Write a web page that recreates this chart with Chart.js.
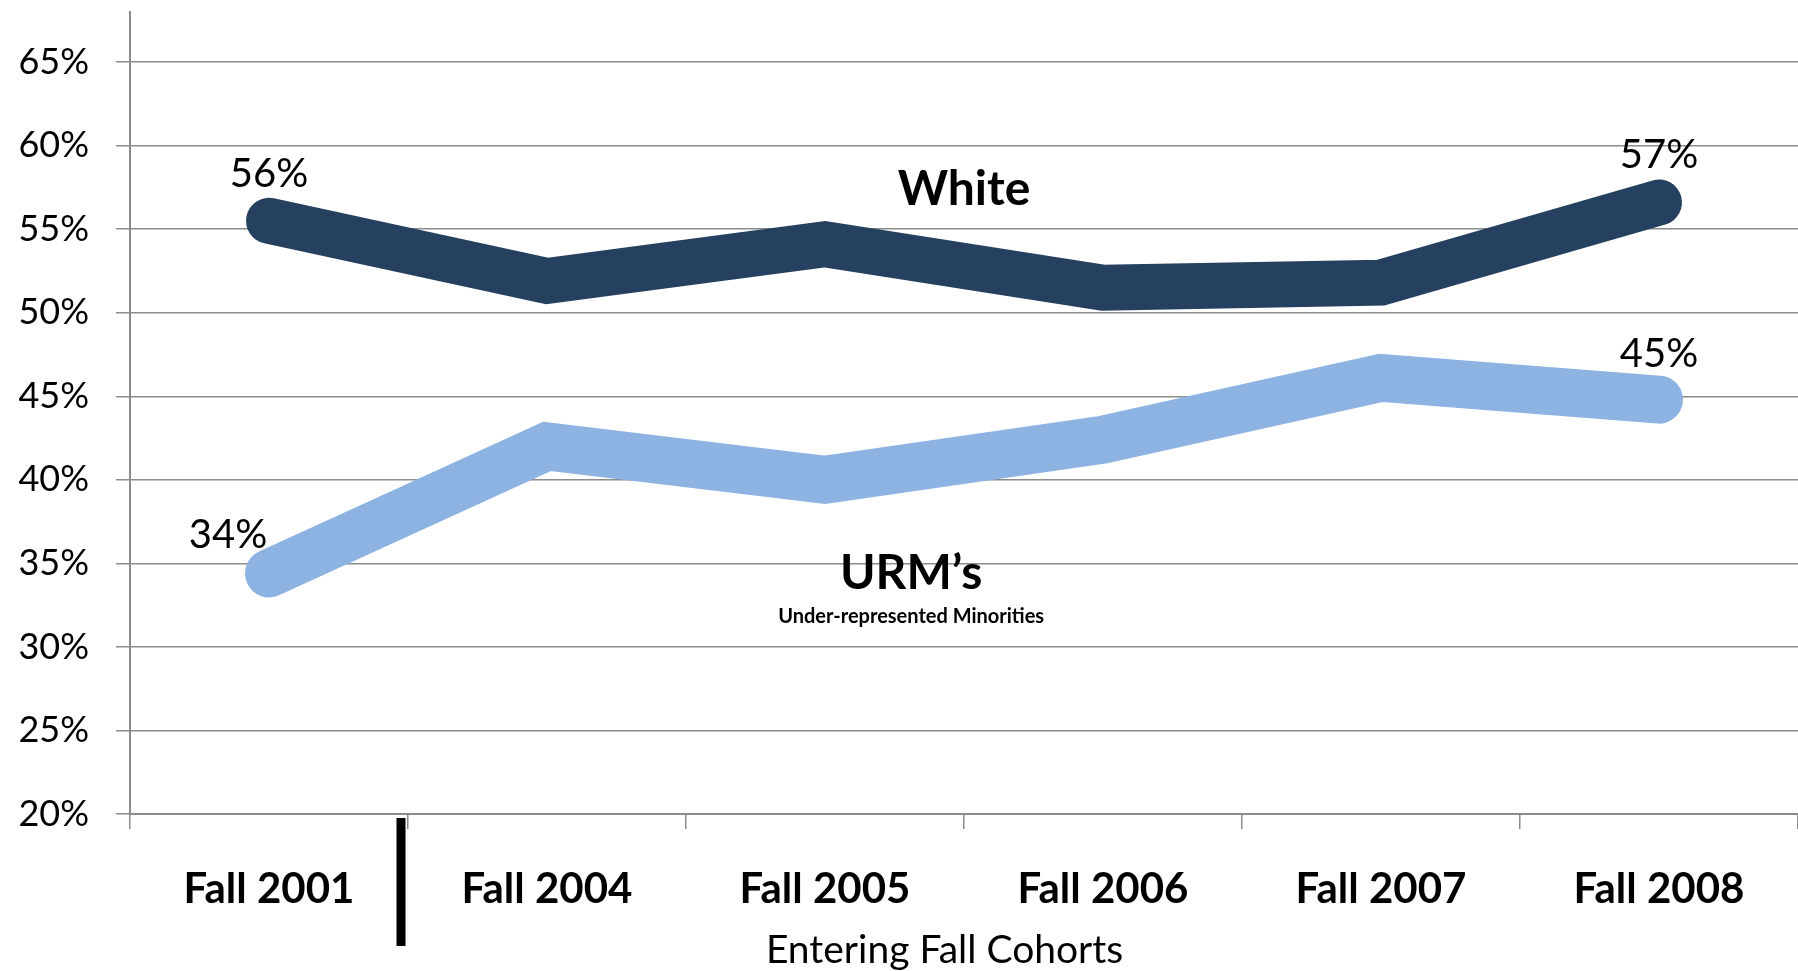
<!DOCTYPE html>
<html>
<head>
<meta charset="utf-8">
<script src="https://cdn.jsdelivr.net/npm/chart.js@4.4.1/dist/chart.umd.min.js"></script>
<style>
  html, body { margin: 0; padding: 0; background: #fff; }
  #wrap { width: 1798px; height: 971px; }
</style>
</head>
<body>
<div id="wrap"><canvas id="myChart"></canvas></div>
<script>
const cohorts = ["Fall 2001", "Fall 2004", "Fall 2005", "Fall 2006", "Fall 2007", "Fall 2008"];
const whiteRates = [55.5, 51.9, 54.1, 51.5, 51.8, 56.6];
const urmRates = [34.4, 42.0, 40.0, 42.4, 46.1, 44.8];
const yTicks = [20, 25, 30, 35, 40, 45, 50, 55, 60, 65];

const FONT = "Lato, 'Open Sans', sans-serif";
const GRID = "#8c8c8c";

const ctx = document.querySelector("#myChart");

// labels, series names and the little black divider drawn on top
const annotate = {
    id: "annotate",
    afterDatasetsDraw(chart) {
        const { ctx, chartArea, scales: { x, y } } = chart;
        const last = cohorts.length - 1;
        ctx.save();
        ctx.fillStyle = "#000";
        ctx.textAlign = "center";
        ctx.textBaseline = "middle";

        ctx.font = "40px " + FONT;
        ctx.fillText(Math.round(whiteRates[0]) + "%", x.getPixelForValue(0), y.getPixelForValue(whiteRates[0]) - 47);
        ctx.fillText(Math.round(whiteRates[last]) + "%", x.getPixelForValue(last), y.getPixelForValue(whiteRates[last]) - 47);
        ctx.fillText(Math.round(urmRates[0]) + "%", x.getPixelForValue(0) - 41, y.getPixelForValue(urmRates[0]) - 38);
        ctx.fillText(Math.round(urmRates[last]) + "%", x.getPixelForValue(last), y.getPixelForValue(urmRates[last]) - 46);

        ctx.font = "bold 48px " + FONT;
        ctx.fillText("White", x.getPixelForValue(2.5), y.getPixelForValue(57.4));
        ctx.fillText("URM\u2019s", x.getPixelForValue(2.31), y.getPixelForValue(34.4));
        ctx.font = "bold 20px " + FONT;
        ctx.fillText("Under-represented Minorities", x.getPixelForValue(2.31), y.getPixelForValue(31.8));

        ctx.font = "39px " + FONT;
        ctx.fillText("Entering Fall Cohorts", x.getPixelForValue(2.43), chartArea.bottom + 136);

        const bx = (x.getPixelForValue(0) + x.getPixelForValue(1)) / 2 - 7;
        ctx.fillStyle = "#000";
        ctx.fillRect(bx - 4.5, chartArea.bottom + 4, 9, 128);
        ctx.restore();
    }
};

new Chart(ctx, {
    type: "line",
    data: {
        labels: cohorts,
        datasets: [
            {
                label: "White",
                data: whiteRates,
                borderColor: "#26405f",
                backgroundColor: "#26405f",
                borderWidth: 46,
                borderCapStyle: "round",
                borderJoinStyle: "miter",
                pointRadius: 0,
                tension: 0
            },
            {
                label: "URM's",
                data: urmRates,
                borderColor: "#8db3e2",
                backgroundColor: "#8db3e2",
                borderWidth: 48,
                borderCapStyle: "round",
                borderJoinStyle: "miter",
                pointRadius: 0,
                tension: 0
            }
        ]
    },
    options: {
        responsive: true,
        maintainAspectRatio: false,
        animation: false,
        layout: { padding: { top: 12, right: 0, left: 0, bottom: 0 } },
        plugins: {
            legend: { display: false },
            tooltip: { enabled: false }
        },
        scales: {
            x: {
                offset: true,
                afterFit: s => { s.height = 157; },
                grid: {
                    display: true,
                    offset: true,
                    drawOnChartArea: false,
                    drawTicks: true,
                    tickLength: 15,
                    color: GRID,
                    lineWidth: 1.5
                },
                border: { display: true, color: GRID, width: 2 },
                ticks: {
                    color: "#000",
                    padding: 35,
                    maxRotation: 0,
                    font: { family: FONT, size: 42, weight: "bold" }
                }
            },
            y: {
                min: 20,
                max: 68,
                afterFit: s => { s.width = 130; s.paddingTop = 0; s.paddingBottom = 0; },
                afterBuildTicks: s => { s.ticks = yTicks.map(v => ({ value: v })); },
                grid: {
                    color: GRID,
                    lineWidth: 1.5,
                    tickLength: 14
                },
                border: { display: true, color: GRID, width: 2 },
                ticks: {
                    color: "#000",
                    padding: 27,
                    font: { family: FONT, size: 36 },
                    callback: v => v + "%"
                }
            }
        }
    },
    plugins: [annotate]
});
</script>
</body>
</html>
